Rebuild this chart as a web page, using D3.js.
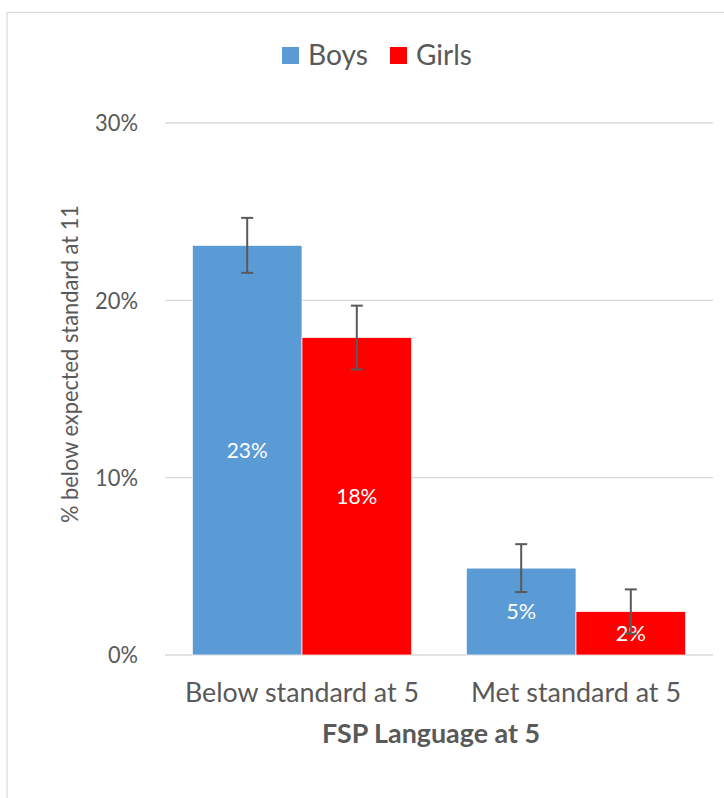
<!DOCTYPE html>
<html><head><meta charset="utf-8">
<script src="https://cdn.jsdelivr.net/npm/d3@7"></script>
<style>body{margin:0;background:#fff;} text{font-family:Lato, "Open Sans", sans-serif;}</style>
</head><body>
<svg id="c" width="724" height="798"></svg>
<script>
const categories = ["Below standard at 5", "Met standard at 5"];
const seriesNames = ["Boys", "Girls"];
const boys = [0.231, 0.049];
const girls = [0.179, 0.0245];
const boysErr = [0.0155, 0.0135];
const girlsErr = [0.018, 0.0125];
const yTicks = [0, 0.1, 0.2, 0.3];
const colors = ["#5B9BD5", "#FF0000"];

const svg = d3.select("#c");
svg.append("rect").attr("x", 7).attr("y", 12.5).attr("width", 730).attr("height", 800)
  .attr("fill", "#fff").attr("stroke", "#d9d9d9").attr("stroke-width", 1.2);

const pL = 165, pR = 713, pT = 123, pB = 655;
const x0 = d3.scaleBand().domain(categories).range([pL, pR]).paddingInner(0.2).paddingOuter(0.1);
const x1 = d3.scaleBand().domain(seriesNames).range([0, x0.bandwidth()]);
const y = d3.scaleLinear().domain([0, 0.3]).range([pB, pT]);

// grid
svg.append("g").selectAll("line").data(yTicks).join("line")
  .attr("x1", pL).attr("x2", pR).attr("y1", d => y(d)).attr("y2", d => y(d))
  .attr("stroke", "#d9d9d9").attr("stroke-width", 1.3);

const yAxis = d3.axisLeft(y).tickValues(yTicks).tickFormat(d3.format(".0%")).tickSize(0).tickPadding(27);
const ga = svg.append("g").attr("transform", `translate(${pL},0)`).call(yAxis);
ga.select(".domain").remove();
ga.selectAll("text").attr("font-size", 24).attr("fill", "#595959").attr("font-family", "Lato")
  .attr("textLength", d => d === 0 ? 30 : 43).attr("lengthAdjust", "spacingAndGlyphs");

const data = categories.map((c, i) => ({cat: c, vals: [
  {s: "Boys", v: boys[i], e: boysErr[i], col: colors[0]},
  {s: "Girls", v: girls[i], e: girlsErr[i], col: colors[1]}]}));

const g = svg.append("g").selectAll("g").data(data).join("g")
  .attr("transform", d => `translate(${x0(d.cat)},0)`);
g.selectAll("rect").data(d => d.vals).join("rect")
  .attr("x", d => x1(d.s)).attr("width", x1.bandwidth())
  .attr("y", d => y(d.v)).attr("height", d => y(0) - y(d.v))
  .attr("fill", d => d.col).attr("stroke", "#fff").attr("stroke-width", 0.7);
g.selectAll("text.lbl").data(d => d.vals).join("text").attr("class", "lbl")
  .attr("x", d => x1(d.s) + x1.bandwidth() / 2).attr("y", d => (y(d.v) + y(0)) / 2)
  .attr("dy", "0.36em").attr("text-anchor", "middle").attr("fill", "#fff").attr("font-size", 21)
  .attr("textLength", d => Math.round(d.v * 100) >= 10 ? 41 : 30).attr("lengthAdjust", "spacingAndGlyphs")
  .text(d => Math.round(d.v * 100) + "%");
const eb = g.selectAll("g.err").data(d => d.vals).join("g").attr("class", "err")
  .attr("stroke", "#595959").attr("stroke-width", 2);
eb.append("line").attr("x1", d => x1(d.s) + x1.bandwidth() / 2).attr("x2", d => x1(d.s) + x1.bandwidth() / 2)
  .attr("y1", d => y(d.v + d.e)).attr("y2", d => y(d.v - d.e));
eb.append("line").attr("x1", d => x1(d.s) + x1.bandwidth() / 2 - 6).attr("x2", d => x1(d.s) + x1.bandwidth() / 2 + 6)
  .attr("y1", d => y(d.v + d.e)).attr("y2", d => y(d.v + d.e));
eb.append("line").attr("x1", d => x1(d.s) + x1.bandwidth() / 2 - 6).attr("x2", d => x1(d.s) + x1.bandwidth() / 2 + 6)
  .attr("y1", d => y(d.v - d.e)).attr("y2", d => y(d.v - d.e));

// x axis labels
const xAxis = d3.axisBottom(x0).tickSize(0);
const gx = svg.append("g").attr("transform", `translate(0,${pB})`).call(xAxis);
gx.select(".domain").remove();
gx.selectAll("text").attr("y", 47).attr("dy", 0).attr("font-size", 26).attr("fill", "#595959").attr("font-family", "Lato")
  .attr("textLength", d => d === categories[0] ? 234 : 210).attr("lengthAdjust", "spacingAndGlyphs");

svg.append("text").attr("x", 431).attr("y", 743).attr("text-anchor", "middle")
  .attr("font-size", 26).attr("font-weight", "bold").attr("fill", "#595959")
  .attr("textLength", 218).attr("lengthAdjust", "spacingAndGlyphs").text("FSP Language at 5");
svg.append("text").attr("transform", "translate(78,364) rotate(-90)").attr("text-anchor", "middle")
  .attr("font-size", 24).attr("fill", "#595959")
  .attr("textLength", 318).attr("lengthAdjust", "spacingAndGlyphs").text("% below expected standard at 11");

// legend
const leg = svg.append("g");
const legX = [282, 390];
const legW = [60, 56];
seriesNames.forEach((s, i) => {
  leg.append("rect").attr("x", legX[i]).attr("y", 47).attr("width", 17).attr("height", 17).attr("fill", colors[i]);
  leg.append("text").attr("x", legX[i] + 26).attr("y", 65).attr("font-size", 28)
    .attr("textLength", legW[i]).attr("lengthAdjust", "spacingAndGlyphs")
    .attr("fill", "#595959").text(s);
});
</script>
</body></html>
